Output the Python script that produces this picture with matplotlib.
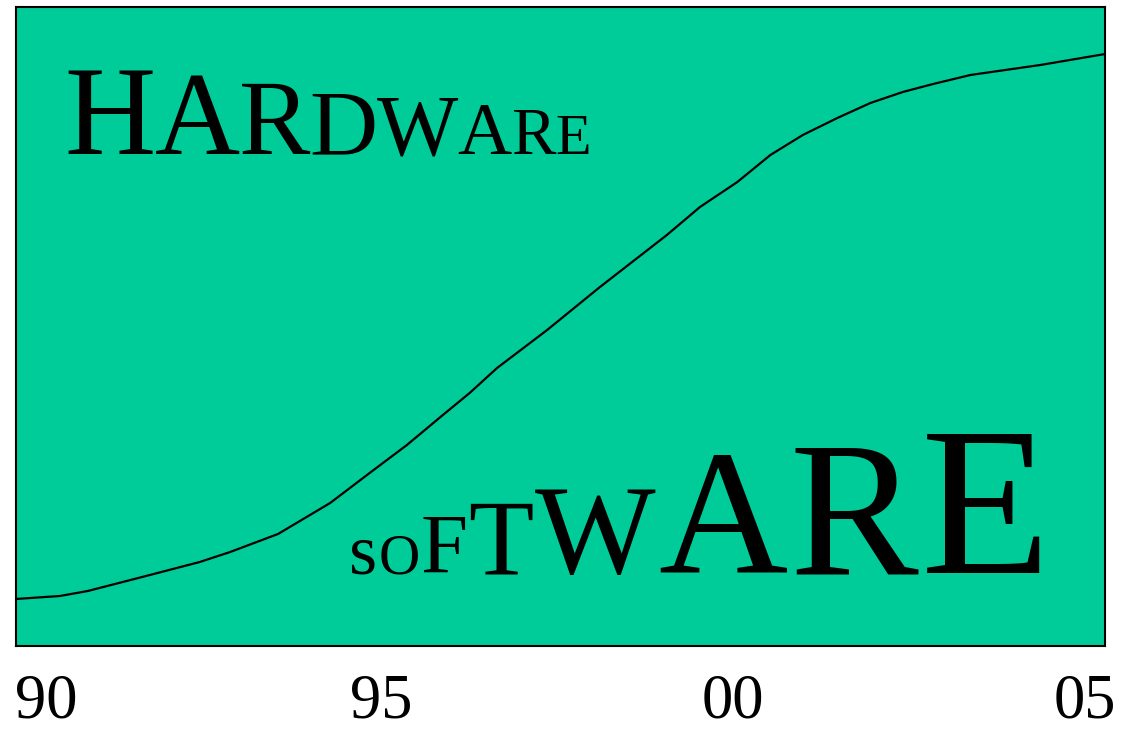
import matplotlib
matplotlib.use("Agg")
import matplotlib.pyplot as plt
from matplotlib.transforms import ScaledTranslation

# Дані кривої (роки, частка у %)
years = [89.82, 90.44, 90.84, 91.72, 92.43, 92.86, 93.54, 94.28, 94.84, 95.37,
         95.88, 96.26, 96.65, 97.36, 98.11, 99.06, 99.53, 100.06, 100.53, 100.99,
         101.48, 101.95, 102.41, 102.84, 103.37, 104.36, 105.28]
share = [7.36, 7.82, 8.61, 11.11, 13.15, 14.71, 17.53, 22.38, 27.07, 31.46,
         36.15, 39.59, 43.51, 49.45, 56.18, 64.32, 68.70, 72.61, 76.84, 79.97,
         82.63, 84.98, 86.70, 87.95, 89.36, 90.92, 92.64]

tick_pos = [90, 95, 100, 105]
tick_labels = ['90', '95', '00', '05']

# Підписи: літери та їх розміри
hw_letters = list('HARDWARE')
hw_sizes = [91, 85, 77, 68, 62, 54, 48, 42]
sw_letters = list('sOFTWARE')
sw_sizes = [52, 41, 61, 77, 92, 129, 139, 153]

serif = 'Liberation Serif'

fig = plt.figure(figsize=(11.21, 7.30), dpi=100)
ax = fig.add_axes([16 / 1121, 84 / 730, 1089 / 1121, 639 / 730])
ax.set_facecolor('#00cc99')
ax.plot(years, share, color='black', linewidth=1.6)
ax.set_xlim(89.82, 105.28)
ax.set_ylim(0, 100)
ax.set_yticks([])
ax.set_xticks(tick_pos)
ax.set_xticklabels(tick_labels, fontsize=45, fontfamily=serif)
ax.tick_params(axis='x', length=0, pad=20)
for s in ax.spines.values():
    s.set_linewidth(1.5)
    s.set_color('black')

# Зсув першої мітки вправо, як в оригіналі
lbl = ax.get_xticklabels()[0]
lbl.set_transform(lbl.get_transform() + ScaledTranslation(0.18, 0, fig.dpi_scale_trans))

renderer = fig.canvas.get_renderer()


def word(letters, sizes, x0, y0, gap):
    # y0 - базова лінія в пікселях від верху
    x = x0
    for ch, sz in zip(letters, sizes):
        t = fig.text(x / 1121, 1 - y0 / 730, ch, fontsize=sz, fontfamily=serif,
                     ha='left', va='baseline', color='black')
        bb = t.get_window_extent(renderer)
        x += bb.width + gap * sz


word(hw_letters, hw_sizes, 64, 154, -0.01)
word(sw_letters, sw_sizes, 349, 573, 0.02)

fig.savefig('out.png', dpi=100)
